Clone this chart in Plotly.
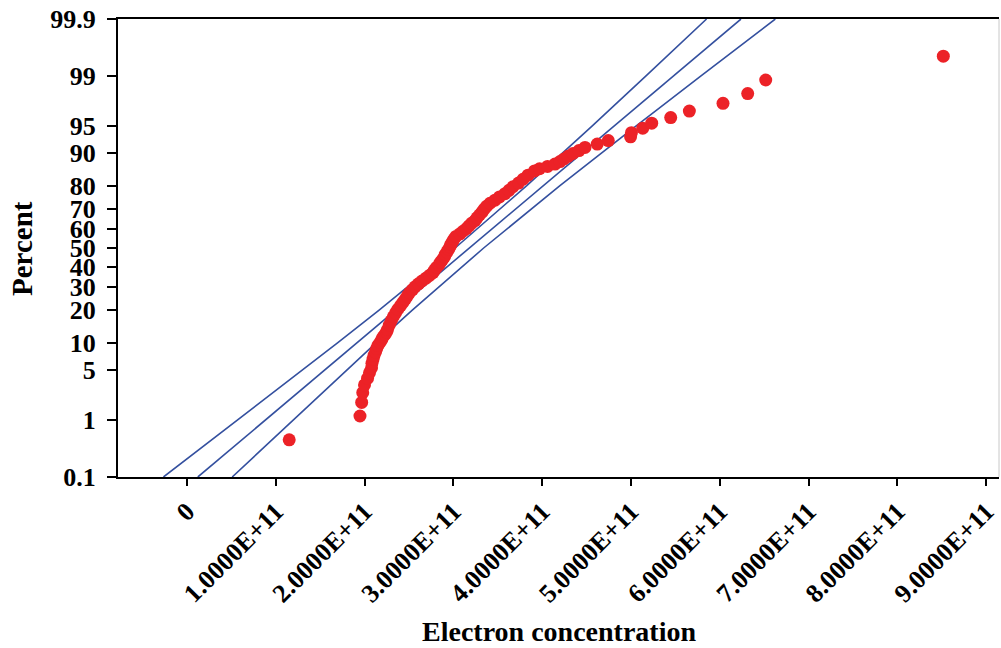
import plotly.graph_objects as go
from statistics import NormalDist

# ---------------- data (x in units of 1E+11) ----------------
x_e11 = [1.151, 1.948, 1.967, 1.979, 1.999, 2.033, 2.055, 2.078, 2.083, 2.095,
         2.106, 2.123, 2.136, 2.151, 2.173, 2.193, 2.207, 2.230, 2.247, 2.258,
         2.278, 2.300, 2.323, 2.349, 2.374, 2.405, 2.432, 2.459, 2.482, 2.506,
         2.539, 2.568, 2.607, 2.646, 2.691, 2.731, 2.770, 2.787, 2.810, 2.838,
         2.855, 2.877, 2.899, 2.909, 2.928, 2.945, 2.962, 2.973, 2.990, 3.007,
         3.029, 3.074, 3.108, 3.147, 3.176, 3.204, 3.243, 3.266, 3.294, 3.322,
         3.345, 3.373, 3.412, 3.468, 3.519, 3.581, 3.626, 3.671, 3.733, 3.784,
         3.840, 3.913, 3.970, 4.060, 4.144, 4.200, 4.245, 4.291, 4.347, 4.414,
         4.482, 4.620, 4.744, 4.995, 5.005, 5.132, 5.233, 5.447, 5.657, 6.036,
         6.314, 6.517, 8.517]
percent = [0.481, 1.169, 1.857, 2.545, 3.232, 3.920, 4.608, 5.296, 5.983, 6.671,
           7.359, 8.047, 8.735, 9.422, 10.110, 10.798, 11.486, 12.173, 12.861, 13.549,
           14.924, 16.300, 17.675, 19.051, 20.426, 21.802, 23.177, 24.553, 25.928, 27.304,
           28.679, 30.055, 31.431, 32.806, 34.182, 35.557, 36.933, 38.308, 39.684, 41.059,
           42.435, 43.810, 45.186, 46.561, 47.937, 49.312, 50.688, 52.063, 53.439, 54.814,
           56.190, 57.565, 58.941, 60.316, 61.692, 63.067, 64.443, 65.818, 67.194, 68.569,
           69.945, 71.320, 72.696, 74.072, 75.447, 76.823, 78.198, 79.574, 80.949, 82.325,
           83.700, 85.076, 85.763, 86.451, 87.139, 87.827, 88.514, 89.202, 89.890, 90.578,
           91.265, 91.953, 92.641, 93.329, 94.017, 94.704, 95.392, 96.080, 96.768, 97.455,
           98.143, 98.831, 99.519]

band_pct = [0.1, 1, 5, 10, 20, 50, 80, 90, 95, 99, 99.9]
fit_x_e11 = [0.122, 0.878, 1.552, 1.912, 2.347, 3.180, 4.013, 4.448, 4.808, 5.482, 6.238]
lower_x_e11 = [-0.265, 0.568, 1.305, 1.695, 2.160, 3.019, 3.826, 4.231, 4.561, 5.172, 5.851]
upper_x_e11 = [0.509, 1.188, 1.799, 2.129, 2.534, 3.341, 4.200, 4.665, 5.055, 5.792, 6.625]

y_tick_pct = [0.1, 1, 5, 10, 20, 30, 40, 50, 60, 70, 80, 90, 95, 99, 99.9]
y_tick_text = ["0.1", "1", "5", "10", "20", "30", "40", "50", "60", "70", "80", "90", "95", "99", "99.9"]
x_tick_e11 = [0, 1, 2, 3, 4, 5, 6, 7, 8, 9]
x_tick_text = ["0", "1.0000E+11", "2.0000E+11", "3.0000E+11", "4.0000E+11", "5.0000E+11",
               "6.0000E+11", "7.0000E+11", "8.0000E+11", "9.0000E+11"]

# ---------------- helpers ----------------
nd = NormalDist()
def zq(p):
    return nd.inv_cdf(p / 100.0)

def sci(v):
    return v * 1e11

FONT = "Liberation Serif, Times New Roman, serif"
LINE_C = "#34509F"
DOT_C = "#EC2227"

fig = go.Figure()
for xs in (lower_x_e11, fit_x_e11, upper_x_e11):
    fig.add_trace(go.Scatter(x=[sci(v) for v in xs], y=[zq(p) for p in band_pct],
                             mode="lines", line=dict(color=LINE_C, width=1.6),
                             showlegend=False, hoverinfo="skip"))
fig.add_trace(go.Scatter(x=[sci(v) for v in x_e11], y=[zq(p) for p in percent],
                         mode="markers", marker=dict(color=DOT_C, size=13, line=dict(width=0)),
                         showlegend=False))

fig.update_layout(
    width=1001, height=648,
    margin=dict(l=118, r=2, t=19, b=171),
    paper_bgcolor="white", plot_bgcolor="white",
    font=dict(family=FONT, color="black"),
    xaxis=dict(range=[sci(-0.777), sci(9.144)], tickvals=[sci(v) for v in x_tick_e11],
               ticktext=x_tick_text, tickangle=-45, automargin=False,
               tickfont=dict(family=FONT, size=26, weight="bold", color="black"),
               showline=True, linecolor="black", linewidth=2, mirror=True,
               ticks="outside", ticklen=7, tickwidth=2, tickcolor="black",
               showgrid=False, zeroline=False),
    yaxis=dict(range=[-3.0905, 3.0905], tickvals=[zq(p) for p in y_tick_pct],
               ticktext=y_tick_text, automargin=False,
               tickfont=dict(family=FONT, size=26, weight="bold", color="black"),
               showline=True, linecolor="black", linewidth=2, mirror=False,
               ticks="outside", ticklen=9, tickwidth=2, tickcolor="black",
               showgrid=False, zeroline=False, ticklabelstandoff=6),
    shapes=[dict(type="line", xref="paper", yref="paper", x0=1, x1=1, y0=0, y1=1,
                 line=dict(color="#C8C8C8", width=1))],
    annotations=[
        dict(text="<b>Electron concentration</b>", xref="paper", yref="paper",
             x=0.5, y=-0.338, xanchor="center", yanchor="middle", showarrow=False,
             font=dict(family=FONT, size=28, color="black")),
        dict(text="<b>Percent</b>", xref="paper", yref="paper",
             x=-0.109, y=0.5, xanchor="center", yanchor="middle", showarrow=False,
             textangle=-90, font=dict(family=FONT, size=29, color="black")),
    ],
)

fig.write_html("out.html", config={"displayModeBar": False},
               post_script="document.body.style.margin='0';document.body.style.overflow='hidden';")
